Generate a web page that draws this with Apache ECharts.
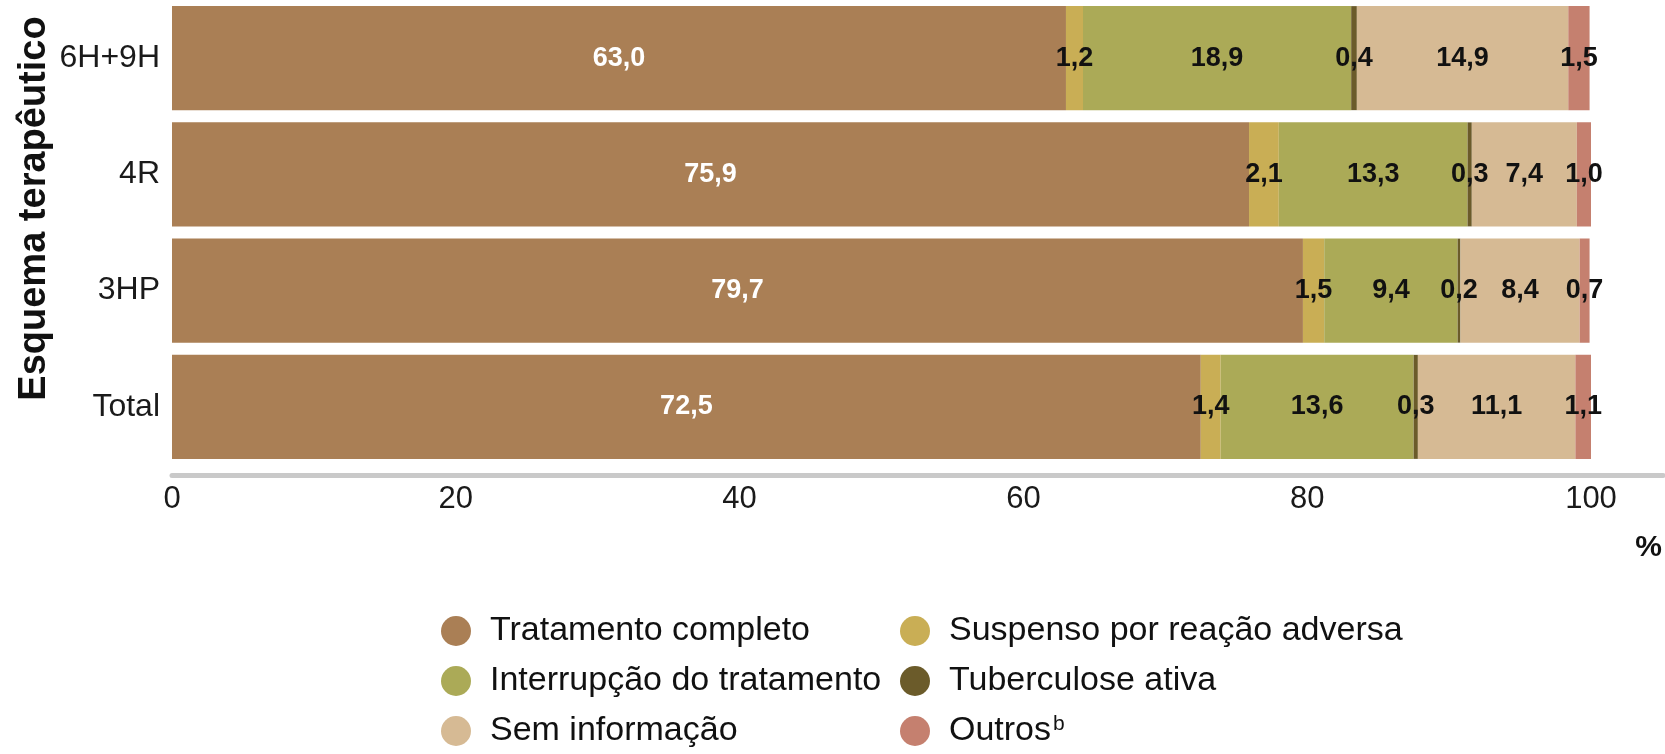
<!DOCTYPE html>
<html>
<head>
<meta charset="utf-8">
<script src="https://cdn.jsdelivr.net/npm/echarts@6/dist/echarts.min.js"></script>
<style>
  html, body { margin: 0; padding: 0; background: #fff; }
  #chart { width: 1665px; height: 754px; }
</style>
</head>
<body>
<div id="chart"></div>
<script>
// dados (% por esquema terapêutico)
const categories = ["6H+9H", "4R", "3HP", "Total"];
const tratamentoCompleto = [63.0, 75.9, 79.7, 72.5];
const suspensoReacao = [1.2, 2.1, 1.5, 1.4];
const interrupcao = [18.9, 13.3, 9.4, 13.6];
const tuberculoseAtiva = [0.4, 0.3, 0.2, 0.3];
const semInformacao = [14.9, 7.4, 8.4, 11.1];
const outros = [1.5, 1.0, 0.7, 1.1];
const xTicks = [0, 20, 40, 60, 80, 100];

const FONT = "Liberation Sans";

const fmt = (v) => v.toFixed(1).replace(".", ",");

const makeSeries = (name, data, color, labelColor) => ({
  name: name,
  type: "bar",
  stack: "total",
  data: data,
  barCategoryGap: "10.5%",
  itemStyle: { color: color },
  label: {
    show: true,
    position: "inside",
    fontFamily: FONT,
    fontSize: 27,
    fontWeight: "bold",
    color: labelColor,
    formatter: (p) => fmt(p.value)
  }
});

const legendBase = {
  orient: "vertical",
  top: 614,
  height: 160,
  padding: 0,
  icon: "circle",
  itemWidth: 30,
  itemHeight: 30,
  itemGap: 16,
  selectedMode: false
};

const chart = echarts.init(document.getElementById("chart"));

const option = {
  animation: false,
  textStyle: { fontFamily: FONT },
  title: {
    text: "%",
    right: 3,
    top: 533,
    padding: 0,
    textStyle: { fontFamily: FONT, fontSize: 30, fontWeight: "bold", color: "#111" }
  },
  grid: [
    { left: 172, right: 74, top: 0, bottom: 289, containLabel: false },
    { left: 172, right: 2, top: 0, bottom: 289, containLabel: false }
  ],
  legend: [
    Object.assign({}, legendBase, {
      data: ["Tratamento completo", "Interrupção do tratamento", "Sem informação"],
      left: 441,
      textStyle: { fontFamily: FONT, fontSize: 34, color: "#111", padding: [0, 0, 0, 14] }
    }),
    Object.assign({}, legendBase, {
      data: ["Suspenso por reação adversa", "Tuberculose ativa", "Outros"],
      left: 900,
      formatter: (name) => (name === "Outros" ? "{n|Outros}{s|b}" : name),
      textStyle: {
        fontFamily: FONT,
        fontSize: 34,
        color: "#111",
        padding: [0, 0, 0, 14],
        rich: {
          n: { fontFamily: FONT, fontSize: 34, color: "#111" },
          s: { fontFamily: FONT, fontSize: 21, color: "#111", verticalAlign: "top", padding: [0, 0, 4, 2] }
        }
      }
    })
  ],
  xAxis: [
    {
      type: "value",
      gridIndex: 0,
      min: xTicks[0],
      max: xTicks[xTicks.length - 1],
      interval: xTicks[1] - xTicks[0],
      offset: 10,
      axisLine: { show: false },
      axisTick: { show: false },
      splitLine: { show: false },
      axisLabel: { fontFamily: FONT, fontSize: 31, color: "#1a1a1a", margin: 9 }
    },
    {
      type: "value",
      gridIndex: 1,
      min: 0,
      max: 1,
      offset: 10,
      axisLine: { show: true, onZero: false, lineStyle: { color: "#c9c9c9", width: 5 } },
      axisTick: { show: false },
      splitLine: { show: false },
      axisLabel: { show: false }
    }
  ],
  yAxis: [
    {
      type: "category",
      gridIndex: 0,
      data: categories,
      inverse: true,
      name: "Esquema terapêutico",
      nameLocation: "middle",
      nameRotate: 90,
      nameGap: 118,
      nameMoveOverlap: false,
      nameTextStyle: {
        fontFamily: FONT,
        fontSize: 38,
        fontWeight: "bold",
        color: "#111",
        padding: [0, 0, 0, 48]
      },
      axisLine: { show: false },
      axisTick: { show: false },
      axisLabel: { fontFamily: FONT, fontSize: 32, color: "#1a1a1a", margin: 12 }
    },
    { type: "value", gridIndex: 1, show: false }
  ],
  series: [
    makeSeries("Tratamento completo", tratamentoCompleto, "#aa7f55", "#ffffff"),
    makeSeries("Suspenso por reação adversa", suspensoReacao, "#c9ae55", "#111"),
    makeSeries("Interrupção do tratamento", interrupcao, "#abaa57", "#111"),
    makeSeries("Tuberculose ativa", tuberculoseAtiva, "#6b5b2a", "#111"),
    makeSeries("Sem informação", semInformacao, "#d6ba94", "#111"),
    makeSeries("Outros", outros, "#c5806f", "#111")
  ]
};

chart.setOption(option);
</script>
</body>
</html>
